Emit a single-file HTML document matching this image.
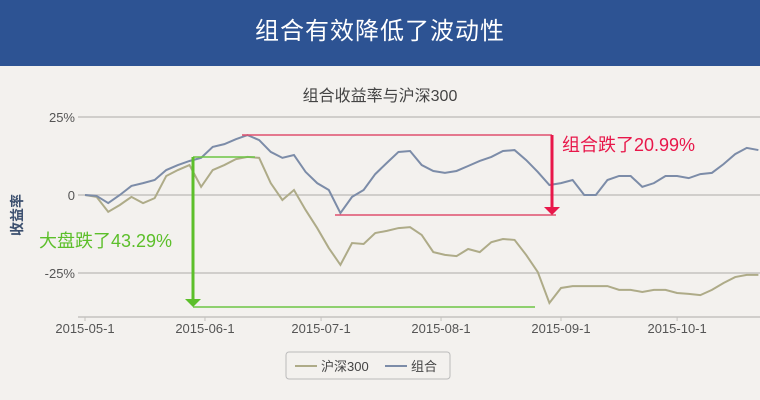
<!DOCTYPE html>
<html><head><meta charset="utf-8"><style>
body{margin:0;width:760px;height:400px;overflow:hidden;background:#f3f1ee;font-family:"Liberation Sans","Noto Sans CJK SC",sans-serif}
#hdr{position:absolute;left:0;top:0;width:760px;height:66px;background:#2d5393;color:#fff;font-size:24px;text-align:center;line-height:64px;letter-spacing:1px}
svg{position:absolute;left:0;top:0}
</style></head><body>
<div id="hdr">组合有效降低了波动性</div>
<svg id="c" width="760" height="400"></svg>
<script>
const days=[];for(let d=0;d<=174;d+=3)days.push(d);
const portfolio=[0,-0.3,-2.6,0,2.9,3.8,4.8,8.0,9.6,10.9,11.9,15.4,16.3,17.9,19.2,17.6,13.8,11.9,12.8,7.4,3.8,1.6,-5.8,-0.6,1.6,6.7,10.3,13.8,14.1,9.6,7.7,7.1,7.7,9.3,10.9,12.2,14.1,14.4,11.2,7.4,3.2,3.8,4.8,0,0,4.8,6.1,6.1,2.6,3.8,6.1,6.1,5.4,6.7,7.1,9.9,13.1,15.1,14.4];
const hs300=[0,-0.6,-5.4,-3.2,-0.6,-2.6,-1.0,6.1,8.0,9.6,2.6,8.0,9.6,11.5,12.2,11.9,3.8,-1.6,1.6,-4.8,-10.6,-17.0,-22.4,-15.4,-15.7,-12.2,-11.5,-10.6,-10.3,-12.8,-18.3,-19.2,-19.6,-17.3,-18.3,-15.1,-14.1,-14.4,-19.2,-24.7,-34.6,-29.8,-29.2,-29.2,-29.2,-29.2,-30.4,-30.4,-31.1,-30.4,-30.4,-31.4,-31.7,-32.1,-30.4,-28.2,-26.3,-25.6,-25.6];
const yTicks=[25,0,-25];const yLabels=["25%","0","-25%"];
const xTickDays=[0,31,61,92,123,153];const xLabels=["2015-05-1","2015-06-1","2015-07-1","2015-08-1","2015-09-1","2015-10-1"];
const X=d=>85+3.87*d, Y=v=>195-3.12*v;
const s=document.getElementById('c');const NS='http://www.w3.org/2000/svg';
function mk(t,a,txt){const e=document.createElementNS(NS,t);for(const k in a)e.setAttribute(k,a[k]);if(txt!=null)e.textContent=txt;s.appendChild(e);return e;}
let e=mk('text',{x:380,y:101,'text-anchor':'middle','font-size':16,fill:'#444'},'组合收益率与沪深300');

e=mk('text',{x:22,y:215,'text-anchor':'middle','font-size':14,fill:'#3b4f6e','font-weight':'bold',transform:'rotate(-90 22 215)'},'收益率');

yTicks.forEach((v,i)=>{let g=mk('line',{x1:78,x2:760,y1:Y(v),y2:Y(v),stroke:'#c4c2bf','stroke-width':1.5});

let t=mk('text',{x:75,y:Y(v)+5,'text-anchor':'end','font-size':13,fill:'#555'},yLabels[i]);
});
e=mk('line',{x1:78,x2:760,y1:317,y2:317,stroke:'#c4c2bf','stroke-width':1.5});
xTickDays.forEach((d,i)=>{let t=mk('text',{x:X(d),y:333,'text-anchor':'middle','font-size':13,fill:'#555'},xLabels[i]);

let l=mk('line',{x1:X(d),x2:X(d),y1:317,y2:321,stroke:'#c4c2bf'});});
function line(vals,col,name){const p=mk('polyline',{points:vals.map((v,i)=>X(days[i])+','+Y(v)).join(' '),fill:'none',stroke:col,'stroke-width':2});
}
line(hs300,'#aeab88','hs300-line');line(portfolio,'#7c8ca8','portfolio-line');
// green annotation
function ln(a,col,name){const l=mk('line',Object.assign({stroke:col,'stroke-width':1.5},a));}
ln({x1:193,x2:255,y1:157,y2:157},'#6cc644','green-top-line');
ln({x1:193,x2:535,y1:307,y2:307},'#6cc644','green-bottom-line');
ln({x1:193,x2:193,y1:157,y2:300,'stroke-width':3},'#5cbf2a','green-arrow-shaft');
e=mk('polygon',{points:'185,299 201,299 193,307',fill:'#5cbf2a'});
e=mk('text',{x:39,y:247,'font-size':18,fill:'#5cbf2a'},'大盘跌了43.29%');
ln({x1:242,x2:552,y1:135,y2:135},'#e0506e','red-top-line');
ln({x1:335,x2:556,y1:215,y2:215},'#e0506e','red-bottom-line');
ln({x1:552,x2:552,y1:135,y2:208,'stroke-width':3},'#e8174a','red-arrow-shaft');
e=mk('polygon',{points:'544,207 560,207 552,215',fill:'#e8174a'});
e=mk('text',{x:562,y:151,'font-size':18,fill:'#e8174a'},'组合跌了20.99%');
// legend
e=mk('rect',{x:286,y:352,width:164,height:27,rx:3,fill:'none',stroke:'#bbb'});
e=mk('line',{x1:295,x2:317,y1:366,y2:366,stroke:'#aeab88','stroke-width':2});
e=mk('text',{x:321,y:371,'font-size':13,fill:'#444'},'沪深300');
e=mk('line',{x1:385,x2:407,y1:366,y2:366,stroke:'#7c8ca8','stroke-width':2});
e=mk('text',{x:411,y:371,'font-size':13,fill:'#444'},'组合');
</script>
</body></html>
